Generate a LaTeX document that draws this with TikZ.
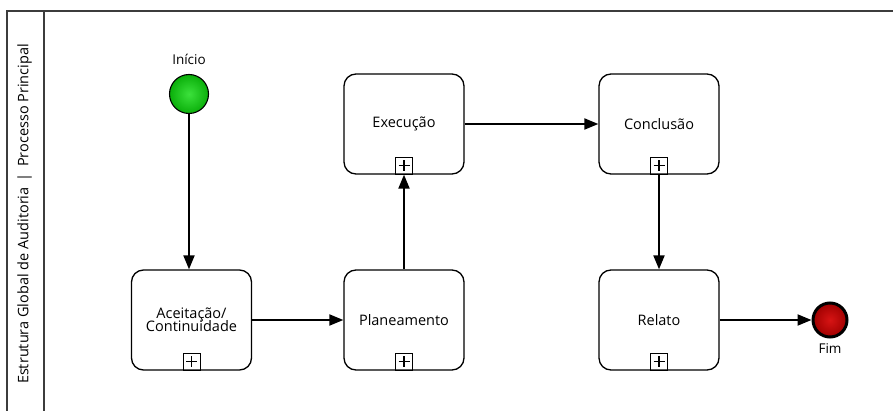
\documentclass[tikz,border=0pt]{standalone}
\usepackage{fontspec}
\setmainfont{Open Sans}
\usetikzlibrary{arrows.meta,calc}
\begin{document}
\begin{tikzpicture}[x=1pt,y=-1pt,
  every node/.style={font=\fontsize{14.5}{16}\selectfont},
  task/.style={draw=black,line width=1.3pt,rounded corners=12pt,minimum width=120pt,minimum height=100pt,align=center,inner sep=0pt},
  marker/.style={draw=black,line width=1pt,minimum size=17pt,inner sep=0pt,path picture={
      \draw[line width=1.1pt] ($(path picture bounding box.north)+(0,-3pt)$) -- ($(path picture bounding box.south)+(0,3pt)$);
      \draw[line width=1.1pt] ($(path picture bounding box.west)+(3pt,0)$) -- ($(path picture bounding box.east)+(-3pt,0)$);}},
  flow/.style={line width=2pt,-{Triangle[length=14pt,width=11pt]}},
  poolline/.style={draw={rgb,255:red,60;green,60;blue,60},line width=1.5pt}]
\useasboundingbox (0,0) rectangle (893,411);

% pool and lane frame
\draw[poolline] (7,411) -- (7,11) -- (893,11);
\draw[poolline] (44,11) -- (44,411);
\node[rotate=90,font=\fontsize{14.5}{16}\selectfont] (pool) at (24.5,214) {Estrutura Global de Auditoria\, | \,Processo Principal};

% events
\node[circle,draw=black,line width=1.1pt,minimum size=39pt,inner sep=0pt,
  shading=radial,inner color={rgb,255:red,60;green,225;blue,60},outer color={rgb,255:red,10;green,175;blue,10}] (start) at (189,94) {};
\node[anchor=south,font=\fontsize{13.5}{15}\selectfont] (startlbl) at (189,68) {Início};

\node[circle,draw=black,line width=3pt,minimum size=34pt,inner sep=0pt,
  shading=radial,inner color={rgb,255:red,215;green,20;blue,20},outer color={rgb,255:red,160;green,0;blue,0}] (end) at (830,320) {};
\node[anchor=north,font=\fontsize{13.5}{15}\selectfont] (endlbl) at (830,340) {Fim};

% sub-processes
\node[task] (acc) at (191.5,320) {Aceitação/\\[-3pt]Continuidade};
\node[task] (plan) at (404,320) {Planeamento};
\node[task] (exec) at (404,124) {Execução};
\node[task] (conc) at (659,124) {Conclusão};
\node[task] (rel) at (659,320) {Relato};

\foreach \t in {acc,plan,exec,conc,rel}
  \node[marker,anchor=south] (\t-m) at (\t.south) {};

% sequence flows
\draw[flow] (start.south) -- (start.south |- acc.north);
\draw[flow] (acc.east) -- (plan.west);
\draw[flow] (plan.north) -- (exec.south);
\draw[flow] (exec.east) -- (conc.west);
\draw[flow] (conc.south) -- (rel.north);
\draw[flow] (rel.east) -- (end.west);
\end{tikzpicture}
\end{document}
